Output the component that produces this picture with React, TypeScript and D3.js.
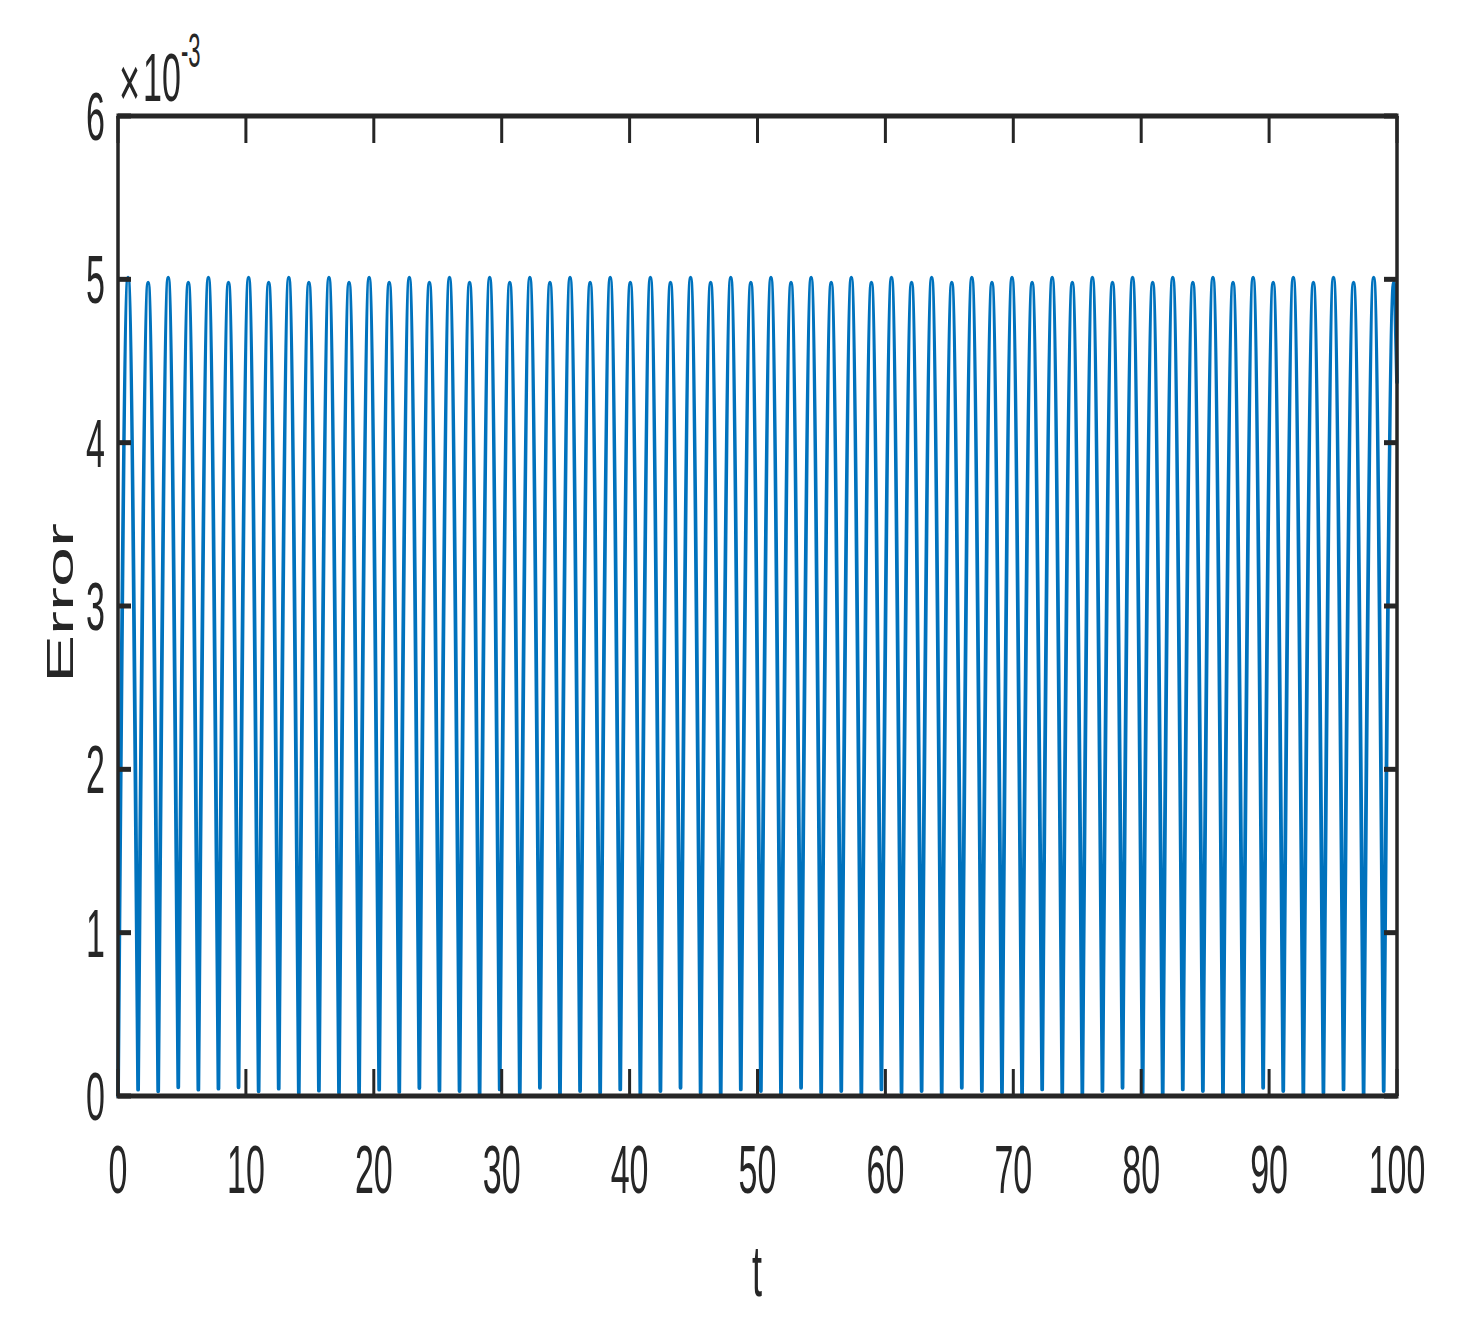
import React from "react";
import * as d3 from "d3";

// Values in units of 1e-3 (axis shows ×10^-3)
const xTickValues = [0, 10, 20, 30, 40, 50, 60, 70, 80, 90, 100];
const yTickValues = [0, 1, 2, 3, 4, 5, 6];

const troughT = [
  0, 1.571, 3.142, 4.712, 6.283, 7.854, 9.425, 10.996, 12.566, 14.137, 15.708,
  17.279, 18.85, 20.42, 21.991, 23.562, 25.133, 26.704, 28.274, 29.845, 31.416,
  32.987, 34.558, 36.128, 37.699, 39.27, 40.841, 42.412, 43.982, 45.553, 47.124,
  48.695, 50.265, 51.836, 53.407, 54.978, 56.549, 58.119, 59.69, 61.261, 62.832,
  64.403, 65.973, 67.544, 69.115, 70.686, 72.257, 73.827, 75.398, 76.969, 78.54,
  80.111, 81.681, 83.252, 84.823, 86.394, 87.965, 89.535, 91.106, 92.677, 94.248,
  95.819, 97.389, 98.96,
];
const troughV = [
  0, 0.039, 0.029, 0.053, 0.039, 0.045, 0.053, 0.029, 0.045, 0.018, 0.033,
  0.018, 0.018, 0.039, 0.025, 0.049, 0.033, 0.03, 0.01, 0.04, 0.02, 0.05,
  0.0, 0.03, 0.02, 0.04, 0.01, 0.03, 0.05, 0.02, 0.0, 0.04, 0.03,
  0.01, 0.05, 0.02, 0.03, 0.0, 0.04, 0.02, 0.03, 0.01, 0.05, 0.03,
  0.02, 0.0, 0.04, 0.02, 0.01, 0.03, 0.05, 0.02, 0.0, 0.04, 0.03,
  0.01, 0.02, 0.05, 0.03, 0.0, 0.02, 0.04, 0.01, 0.03,
];
const peakT = [
  0.785, 2.356, 3.927, 5.498, 7.069, 8.639, 10.21, 11.781, 13.352, 14.923,
  16.493, 18.064, 19.635, 21.206, 22.777, 24.347, 25.918, 27.489, 29.06, 30.631,
  32.201, 33.772, 35.343, 36.914, 38.485, 40.055, 41.626, 43.197, 44.768, 46.338,
  47.909, 49.48, 51.051, 52.622, 54.192, 55.763, 57.334, 58.905, 60.476, 62.046,
  63.617, 65.188, 66.759, 68.33, 69.9, 71.471, 73.042, 74.613, 76.184, 77.754,
  79.325, 80.896, 82.467, 84.038, 85.608, 87.179, 88.75, 90.321, 91.892, 93.462,
  95.033, 96.604, 98.175, 99.746,
];
const peakV = [
  5.01, 4.98, 5.01, 4.98, 5.01, 4.98, 5.01, 4.98, 5.01, 4.98, 5.01, 4.98, 5.01,
  4.98, 5.01, 4.98, 5.01, 4.98, 5.01, 4.98, 5.01, 4.98, 5.01, 4.98, 5.01, 4.98,
  5.01, 4.98, 5.01, 4.98, 5.01, 4.98, 5.01, 4.98, 5.01, 4.98, 5.01, 4.98, 5.01,
  4.98, 5.01, 4.98, 5.01, 4.98, 5.01, 4.98, 5.01, 4.98, 5.01, 4.98, 5.01, 4.98,
  5.01, 4.98, 5.01, 4.98, 5.01, 4.98, 5.01, 4.98, 5.01, 4.98, 5.01, 4.98,
];
const endT = [100];
const endV = [4.37];

const AX = "#262626";
const BLUE = "#0072BD";
const FONT = "'Liberation Sans', Arial, Helvetica, sans-serif";

export default function App() {
  const left = 118, right = 1397, top = 116, bottom = 1096;
  const x = d3.scaleLinear().domain([0, 100]).range([left, right]);
  const y = d3.scaleLinear().domain([0, 6]).range([bottom, top]);

  // each arch: trough -> peak -> next trough (or the final sample)
  const arches: [number, number][][] = peakT.map((pt, i) => {
    const nextT = i + 1 < troughT.length ? troughT[i + 1] : endT[0];
    const nextV = i + 1 < troughV.length ? troughV[i + 1] : endV[0];
    return [
      [troughT[i], troughV[i]],
      [pt, peakV[i]],
      [nextT, nextV],
    ];
  });

  const line = d3
    .line<[number, number]>()
    .x((d) => x(d[0]))
    .y((d) => y(d[1]))
    .curve(d3.curveMonotoneX);

  const pathD = arches.map((a) => line(a) || "").join("");

  const xTickLen = 27;
  const yTickLen = 13;

  return (
    <svg
      width={1462}
      height={1337}
      style={{ position: "absolute", left: 0, top: 0, display: "block", background: "#fff" }}
    >
      <rect x={0} y={0} width={1462} height={1337} fill="#fff" />
      <path
        d={pathD}
        fill="none"
        stroke={BLUE}
        strokeWidth={3.8}
        strokeLinejoin="round"
        strokeLinecap="round"
      />

      {/* axes box */}
      <line x1={left - 1.5} x2={right + 1.5} y1={bottom} y2={bottom} stroke={AX} strokeWidth={5} />
      <line x1={left - 1.5} x2={right + 1.5} y1={top} y2={top} stroke={AX} strokeWidth={5} />
      <line x1={left} x2={left} y1={top} y2={bottom} stroke={AX} strokeWidth={3.5} />
      <line x1={right} x2={right} y1={top} y2={bottom} stroke={AX} strokeWidth={3.5} />

      {xTickValues.map((v) => (
        <g key={"xt" + v}>
          <line x1={x(v)} x2={x(v)} y1={bottom} y2={bottom - xTickLen} stroke={AX} strokeWidth={3} />
          <line x1={x(v)} x2={x(v)} y1={top} y2={top + xTickLen} stroke={AX} strokeWidth={3} />
          <text
            transform={`translate(${x(v)},${1193}) scale(1,2)`}
            textAnchor="middle"
            fontFamily={FONT}
            fontSize={34}
            fill={AX}
          >
            {v}
          </text>
        </g>
      ))}
      {yTickValues.map((v) => (
        <g key={"yt" + v}>
          <line x1={left} x2={left + yTickLen} y1={y(v)} y2={y(v)} stroke={AX} strokeWidth={5} />
          <line x1={right} x2={right - yTickLen} y1={y(v)} y2={y(v)} stroke={AX} strokeWidth={5} />
          <text
            transform={`translate(${105},${y(v) + 24}) scale(1,2)`}
            textAnchor="end"
            fontFamily={FONT}
            fontSize={34}
            fill={AX}
          >
            {v}
          </text>
        </g>
      ))}

      {/* exponent */}
      <text transform="translate(119,107) scale(1,2)" fontFamily={FONT} fontSize={36} fill={AX}>
        ×
      </text>
      <text transform="translate(143,101) scale(1,2)" fontFamily={FONT} fontSize={34} fill={AX}>
        10
      </text>
      <text transform="translate(181,67) scale(1,2.2)" fontFamily={FONT} fontSize={22} fill={AX}>
        -3
      </text>

      {/* axis labels */}
      <text
        transform="translate(757,1296) scale(1,2)"
        textAnchor="middle"
        fontFamily={FONT}
        fontSize={36}
        fill={AX}
      >
        t
      </text>
      <text
        transform="translate(73,603) rotate(-90) scale(2,1)"
        textAnchor="middle"
        fontFamily={FONT}
        fontSize={36}
        fill={AX}
      >
        Error
      </text>
    </svg>
  );
}
